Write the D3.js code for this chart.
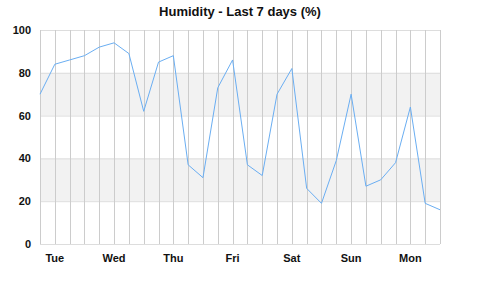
<!DOCTYPE html>
<html>
<head>
<meta charset="utf-8">
<script src="https://cdn.jsdelivr.net/npm/d3@7"></script>
<style>
  body { margin: 0; background: #fff; }
  text { font-family: "Liberation Sans", Arial, sans-serif; }
</style>
</head>
<body>
<script>
// humidity readings every 6 hours, 28 points
var humidity = [70, 84, 86, 88, 92, 94, 89, 62, 85, 88, 37, 31, 73, 86,
                37, 32, 70, 82, 26, 19, 39, 70, 27, 30, 38, 64, 19, 16];
var dayLabels = ["Tue", "Wed", "Thu", "Fri", "Sat", "Sun", "Mon"];
var dayIndex = [1, 5, 9, 13, 17, 21, 25]; // which point each day label sits on
var yTicks = [0, 20, 40, 60, 80, 100];
var bands = [[20, 40], [60, 80]];

var width = 480, height = 299;
var margin = {top: 30, right: 40, bottom: 55, left: 40};

var svg = d3.select("body").append("svg")
    .attr("width", width)
    .attr("height", height);

var x = d3.scaleLinear()
    .domain([0, humidity.length - 1])
    .range([margin.left, width - margin.right]);
var y = d3.scaleLinear()
    .domain([0, 100])
    .range([height - margin.bottom, margin.top]);

// shaded bands
svg.selectAll("rect.band")
    .data(bands)
    .enter()
    .append("rect")
    .attr("class", "band")
    .attr("x", x(0))
    .attr("width", x(humidity.length - 1) - x(0))
    .attr("y", function(d) { return y(d[1]); })
    .attr("height", function(d) { return y(d[0]) - y(d[1]); })
    .attr("fill", "#f2f2f2");

// horizontal grid lines
svg.selectAll("line.hgrid")
    .data(yTicks)
    .enter()
    .append("line")
    .attr("class", "hgrid")
    .attr("x1", x(0))
    .attr("x2", x(humidity.length - 1))
    .attr("y1", function(d) { return y(d) + 0.5; })
    .attr("y2", function(d) { return y(d) + 0.5; })
    .attr("stroke", "#ddd");

// vertical grid lines, one per reading
svg.selectAll("line.vgrid")
    .data(d3.range(humidity.length))
    .enter()
    .append("line")
    .attr("class", "vgrid")
    .attr("x1", function(d) { return Math.round(x(d)) + 0.5; })
    .attr("x2", function(d) { return Math.round(x(d)) + 0.5; })
    .attr("y1", y(100))
    .attr("y2", y(0))
    .attr("stroke", "#ccc");

// y labels
svg.selectAll("text.ylab")
    .data(yTicks)
    .enter()
    .append("text")
    .attr("class", "ylab")
    .attr("x", 31)
    .attr("y", function(d) { return y(d) + 4; })
    .attr("text-anchor", "end")
    .attr("font-size", "11px")
    .attr("font-weight", "bold")
    .attr("fill", "#111")
    .text(function(d) { return d; });

// day labels
svg.selectAll("text.xlab")
    .data(dayLabels)
    .enter()
    .append("text")
    .attr("class", "xlab")
    .attr("x", function(d, i) { return x(dayIndex[i]); })
    .attr("y", 262)
    .attr("text-anchor", "middle")
    .attr("font-size", "11px")
    .attr("font-weight", "bold")
    .attr("fill", "#111")
    .text(function(d) { return d; });

// the line
var line = d3.line()
    .x(function(d, i) { return x(i); })
    .y(function(d) { return y(d); });

svg.append("path")
    .datum(humidity)
    .attr("d", line)
    .attr("fill", "none")
    .attr("stroke", "#6aaef2")
    .attr("stroke-width", 1);

svg.append("text")
    .attr("x", 240)
    .attr("y", 16)
    .attr("text-anchor", "middle")
    .attr("font-size", "13px")
    .attr("font-weight", "bold")
    .attr("fill", "#111")
    .text("Humidity - Last 7 days (%)");
</script>
</body>
</html>
